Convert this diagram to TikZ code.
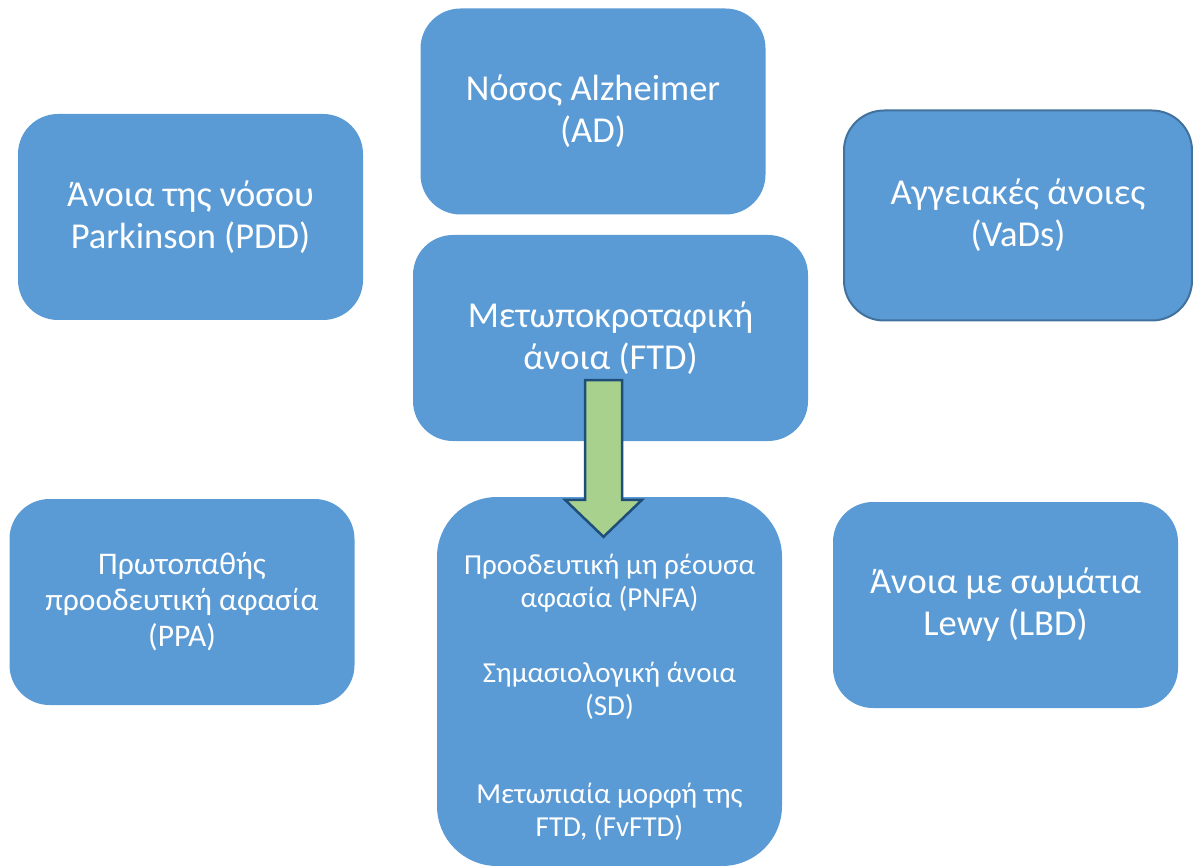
\documentclass[tikz,border=0pt]{standalone}
\usepackage{fontspec}
\setmainfont{Carlito}
\definecolor{boxblue}{HTML}{5B9BD5}
\definecolor{boxedge}{HTML}{41719C}
\definecolor{arrowgreen}{HTML}{A9D18E}
\definecolor{arrowedge}{HTML}{1F4E79}
\begin{document}
\begin{tikzpicture}[
    x=1pt, y=-1pt,
    dem_box/.style={rectangle, rounded corners=40pt, fill=boxblue, inner sep=0pt, minimum width=345pt, minimum height=206pt, align=center, text=white, font=\fontsize{36.5}{42}\selectfont},
    small_box/.style={dem_box, font=\fontsize{31.5}{36}\selectfont},
    sub_text/.style={align=center, text=white, inner sep=0pt, font=\fontsize{29}{33}\selectfont},
    big_arrow/.style={fill=arrowgreen, draw=arrowedge, line width=2.5pt, line join=miter}
]
    \useasboundingbox (0,0) rectangle (1193,866);

    % Nodes
    \node[dem_box] (ad) at (593,111.5) {Νόσος Alzheimer\\(AD)};
    \node[dem_box] (pdd) at (190.5,217) {Άνοια της νόσου\\Parkinson (PDD)};
    \node[dem_box, draw=boxedge, line width=2pt, minimum width=348pt, minimum height=210pt] (vads) at (1018,215.5) {Αγγειακές άνοιες\\(VaDs)};
    \node[dem_box, minimum width=395pt] (ftd) at (610.5,338) {Μετωποκροταφική\\άνοια (FTD)};
    \node[small_box] (ppa) at (182,602) {Πρωτοπαθής\\προοδευτική αφασία\\(PPA)};
    \node[dem_box, rounded corners=60pt, minimum height=369pt] (subs) at (609.5,681.5) {};
    \node[sub_text] (substext) at (609.5,697) {Προοδευτική μη ρέουσα\\αφασία (PNFA)\\[42pt]Σημασιολογική άνοια\\(SD)\\[55pt]Μετωπιαία μορφή της\\FTD, (FvFTD)};
    \node[dem_box] (lbd) at (1005.5,605) {Άνοια με σωμάτια\\Lewy (LBD)};

    % Arrows
    \coordinate (arrtop) at ([xshift=-7pt, yshift=61pt]ftd.south);
    \coordinate (arrtip) at ([xshift=-6pt, yshift=-40pt]subs.north);
    \draw[big_arrow] ([xshift=-18.5pt]arrtop) -- ([xshift=18.5pt]arrtop)
        -- ([xshift=18.5pt, yshift=37pt]arrtip) -- ([xshift=38.5pt, yshift=37pt]arrtip)
        -- (arrtip) -- ([xshift=-38.5pt, yshift=37pt]arrtip)
        -- ([xshift=-18.5pt, yshift=37pt]arrtip) -- cycle;
\end{tikzpicture}
\end{document}
